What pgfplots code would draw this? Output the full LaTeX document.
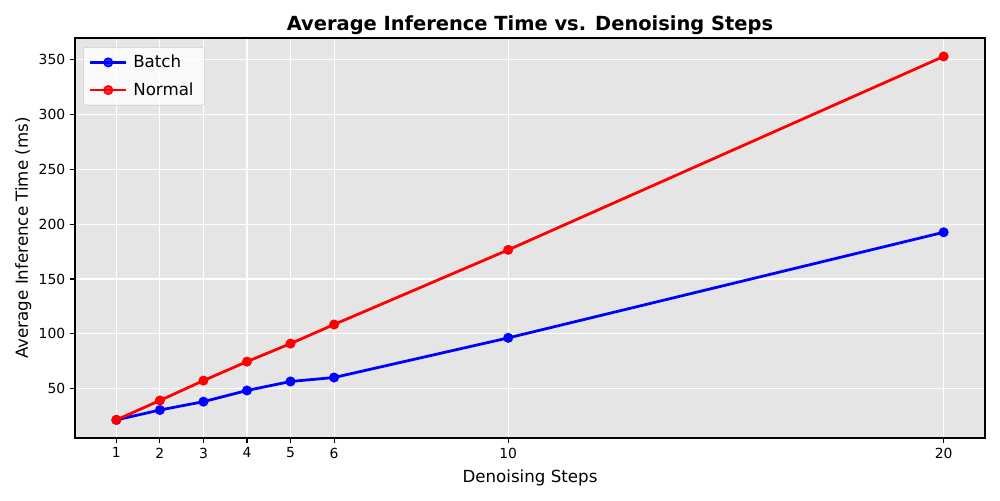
\documentclass[border=0pt]{standalone}
\usepackage{fontspec}
\setmainfont{DejaVu Sans}
\usepackage{pgfplots}
\pgfplotsset{compat=1.18}
\definecolor{bggray}{HTML}{E5E5E5}
\definecolor{legedge}{HTML}{CCCCCC}
\begin{document}
\begin{tikzpicture}
\useasboundingbox (0,0) rectangle (720pt,360pt);
\begin{axis}[
    at={(54pt,44.64pt)}, anchor=south west,
    width=655.2pt, height=288pt, scale only axis,
    xmin=0.05, xmax=20.95, ymin=5.1, ymax=369.5,
    xtick={1,2,3,4,5,6,10,20},
    ytick={50,100,...,350},
    axis background/.style={fill=bggray},
    grid=major,
    major grid style={white, line width=0.8pt},
    axis line style={black, line width=0.8pt},
    tick align=outside, major tick length=3.5pt,
    tick style={black, line width=0.8pt},
    xtick pos=bottom, ytick pos=left,
    /pgf/number format/assume math mode=true,
    ticklabel style={font=\fontsize{10}{12}\selectfont},
    xlabel={Denoising Steps},
    ylabel={Average Inference Time (ms)},
    label style={font=\fontsize{12}{14}\selectfont},
    xlabel style={yshift=-1.5pt},
    ylabel style={yshift=-1.5pt},
    title={\textbf{Average Inference Time vs. Denoising Steps}},
    title style={font=\fontsize{14}{17}\selectfont, yshift=-7.5pt},
    legend style={at={(0.0088,0.9775)}, anchor=north west,
        fill=white, fill opacity=0.8, text opacity=1, draw=legedge,
        rounded corners=2pt, font=\fontsize{12}{14}\selectfont,
        row sep=5.3pt, inner xsep=4pt, inner ysep=3.6pt,
        nodes={inner xsep=4pt}},
    legend cell align=left,
    legend image code/.code={\draw[#1,mark repeat=2,mark phase=2] plot coordinates {(0pt,0pt) (13pt,0pt) (26pt,0pt)};},
]
\addplot[blue, line width=2pt, mark=*, mark size=3.1pt, mark options={solid, fill=blue, line width=1pt}]
coordinates {(1,21.6) (2,30.6) (3,38.2) (4,48.4) (5,56.6) (6,60.2) (10,96.3) (20,192.5)};
\addlegendentry{Batch}
\addplot[red, line width=2pt, mark=*, mark size=3.1pt, mark options={solid, fill=red, line width=1pt}]
coordinates {(1,21.6) (2,39.3) (3,57.4) (4,74.7) (5,91.1) (6,108.5) (10,176.5) (20,352.7)};
\addlegendentry{Normal}
\end{axis}
\end{tikzpicture}
\end{document}
